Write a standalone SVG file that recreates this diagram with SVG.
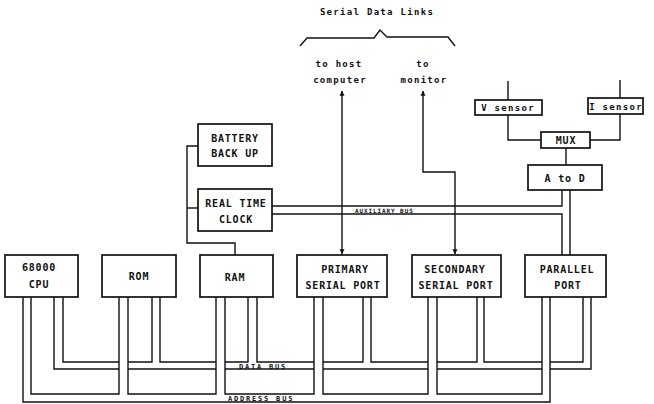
<svg xmlns="http://www.w3.org/2000/svg" width="654" height="404" viewBox="0 0 654 404">
<defs>
<style>
.box{fill:#fff;stroke:#111;stroke-width:1.7}
.ln{fill:none;stroke:#111;stroke-width:1.4}
.t{font-family:"DejaVu Sans Mono","Liberation Mono",monospace;font-weight:bold;font-size:10px;letter-spacing:0.8px;fill:#111;text-anchor:middle}
.s{font-family:"DejaVu Sans Mono","Liberation Mono",monospace;font-weight:bold;font-size:9px;letter-spacing:1.3px;fill:#111;text-anchor:middle}
.b{font-family:"DejaVu Sans Mono","Liberation Mono",monospace;font-weight:bold;font-size:7px;letter-spacing:1.8px;fill:#111}
</style>
<marker id="ah" viewBox="0 0 8 8" refX="7.5" refY="4" markerWidth="5" markerHeight="6" markerUnits="userSpaceOnUse" orient="auto-start-reverse">
<path d="M0,0 L8,4 L0,8 z" fill="#111"/>
</marker>
</defs>
<rect width="654" height="404" fill="#fff"/>

<g id="connectors">
<!-- address bus -->
<path class="ln" d="M23,297 V402 H550 V297"/>
<path class="ln" d="M31,297 V394 H119 V297"/>
<path class="ln" d="M128,297 V394 H216 V297"/>
<path class="ln" d="M225,297 V394 H314 V297"/>
<path class="ln" d="M323,297 V394 H428 V297"/>
<path class="ln" d="M437,297 V394 H542 V297"/>
<!-- data bus bottom wall -->
<path class="ln" d="M54,297 V369 H119"/>
<path class="ln" d="M128,369 H216"/>
<path class="ln" d="M225,369 H314"/>
<path class="ln" d="M323,369 H428"/>
<path class="ln" d="M437,369 H542"/>
<path class="ln" d="M550,369 H591 V297"/>
<!-- data bus top wall -->
<path class="ln" d="M63,297 V362 H119"/>
<path class="ln" d="M128,362 H152 V297"/>
<path class="ln" d="M160,297 V362 H216"/>
<path class="ln" d="M225,362 H248 V297"/>
<path class="ln" d="M257,297 V362 H314"/>
<path class="ln" d="M323,362 H363 V297"/>
<path class="ln" d="M371,297 V362 H428"/>
<path class="ln" d="M437,362 H477 V297"/>
<path class="ln" d="M484,297 V362 H542"/>
<path class="ln" d="M550,362 H583 V297"/>
<!-- battery / rtc -->
<path class="ln" d="M198,146 H187 V243 H235 V255"/>
<path class="ln" d="M187,208 H198"/>
<!-- auxiliary bus -->
<path class="ln" d="M272,206 H562 V190"/>
<path class="ln" d="M272,214 H562 V255"/>
<path class="ln" d="M570,190 V255"/>
<!-- sensors -->
<path class="ln" d="M508,81 V100"/>
<path class="ln" d="M620,80 V98"/>
<path class="ln" d="M508,115 V140 H541"/>
<path class="ln" d="M620,114 V140 H590"/>
<path class="ln" d="M566,148 V165"/>
<!-- serial links -->
<path class="ln" d="M342,91 V254" stroke-width="1.6" marker-start="url(#ah)" marker-end="url(#ah)"/>
<path class="ln" d="M423,91 V172 H455 V254" stroke-width="2.1" marker-start="url(#ah)" marker-end="url(#ah)"/>
<!-- brace -->
<path class="ln" d="M300,46 L307,38 L374,38 L380,30 L387,37 L448,37 L455,46"/>
</g>

<g id="labels">
<text class="s" x="377" y="15">Serial Data Links</text>
<text class="s" x="339" y="67">to host</text>
<text class="s" x="340" y="83">computer</text>
<text class="s" x="423" y="67">to</text>
<text class="s" x="424" y="83">monitor</text>
<text class="b" x="239" y="368.5">DATA BUS</text>
<text class="b" x="228" y="401">ADDRESS BUS</text>
<text class="b" x="355" y="212.5" style="font-size:6px;letter-spacing:0.9px">AUXILIARY BUS</text>
</g>

<g id="cpu"><rect class="box" x="5" y="255" width="73" height="42"/><text class="t" x="39" y="271">68000</text><text class="t" x="39" y="288">CPU</text></g>
<g id="rom"><rect class="box" x="102" y="255" width="74" height="42"/><text class="t" x="139" y="280">ROM</text></g>
<g id="ram"><rect class="box" x="200" y="255" width="73" height="42"/><text class="t" x="235" y="281">RAM</text></g>
<g id="primary"><rect class="box" x="297" y="255" width="90" height="42"/><text class="t" x="345" y="273">PRIMARY</text><text class="t" x="343" y="289">SERIAL PORT</text></g>
<g id="secondary"><rect class="box" x="412" y="255" width="89" height="42"/><text class="t" x="455" y="273">SECONDARY</text><text class="t" x="456" y="289">SERIAL PORT</text></g>
<g id="parallel"><rect class="box" x="525" y="255" width="81" height="42"/><text class="t" x="567" y="273">PARALLEL</text><text class="t" x="568" y="289">PORT</text></g>
<g id="battery"><rect class="box" x="198" y="124" width="74" height="42"/><text class="t" x="235" y="142">BATTERY</text><text class="t" x="235" y="157">BACK UP</text></g>
<g id="rtc"><rect class="box" x="198" y="189" width="74" height="42"/><text class="t" x="236" y="207">REAL TIME</text><text class="t" x="236" y="223">CLOCK</text></g>
<g id="vsensor"><rect class="box" x="475" y="100" width="67" height="15"/><text class="s" x="508" y="111">V sensor</text></g>
<g id="isensor"><rect class="box" x="588" y="98" width="55" height="16"/><text class="s" x="616" y="110">I sensor</text></g>
<g id="mux"><rect class="box" x="541" y="132" width="49" height="16"/><text class="t" x="566" y="144">MUX</text></g>
<g id="atod"><rect class="box" x="528" y="165" width="74" height="25"/><text class="t" x="565" y="182">A to D</text></g>
</svg>
